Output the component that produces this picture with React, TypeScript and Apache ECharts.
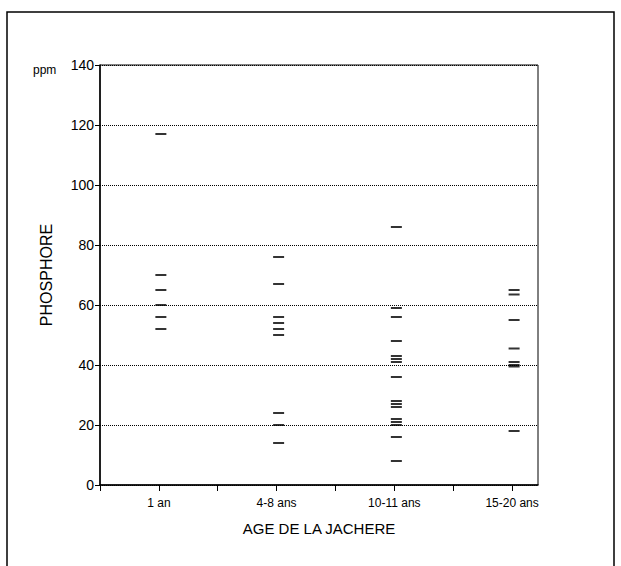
import React, { useEffect, useRef } from "react";
import * as echarts from "echarts";

const categories = ["1 an", "4-8 ans", "10-11 ans", "15-20 ans"];
const an1 = [117, 70, 65, 60, 56, 52];
const ans4to8 = [76, 67, 56, 54, 52, 50, 24, 20, 14];
const ans10to11 = [86, 59, 56, 48, 43, 42, 41, 36, 28, 27, 26, 22, 21, 20, 16, 8];
const ans15to20 = [65, 63.5, 55, 45.5, 41, 40, 39.5, 18];
const groups = [an1, ans4to8, ans10to11, ans15to20];

const yMin = 0;
const yMax = 140;
const yStep = 20;

const FONT = "Liberation Sans, Arial, Helvetica, sans-serif";

export default function App() {
  const ref = useRef<HTMLDivElement>(null);
  useEffect(() => {
    if (!ref.current) return;
    const chart = echarts.init(ref.current, undefined, { renderer: "svg" });
    const data: number[][] = [];
    groups.forEach((vals, i) => vals.forEach((v) => data.push([i + 1, v])));
    chart.setOption({
      animation: false,
      backgroundColor: "#ffffff",
      grid: {
        left: 100,
        right: 83,
        top: 65,
        bottom: 81,
        show: true,
        borderColor: "#000000",
        borderWidth: 1,
        backgroundColor: "transparent",
      },
      xAxis: {
        type: "value",
        min: 0.5,
        max: 4.22,
        interval: 0.5,
        name: "AGE DE LA JACHERE",
        nameLocation: "middle",
        nameGap: 36,
        nameTextStyle: { color: "#000000", fontSize: 15, fontFamily: FONT },
        axisLine: { show: true, lineStyle: { color: "#000000", width: 1.5 } },
        axisTick: { show: true, length: 6, lineStyle: { color: "#000000", width: 1 } },
        splitLine: { show: false },
        axisLabel: {
          color: "#000000",
          fontSize: 12,
          fontFamily: FONT,
          margin: 12,
          showMaxLabel: false,
          formatter: (v: number) =>
            Number.isInteger(v) && v >= 1 && v <= categories.length ? categories[v - 1] : "",
        },
      },
      yAxis: {
        type: "value",
        min: yMin,
        max: yMax,
        interval: yStep,
        name: "PHOSPHORE",
        nameLocation: "middle",
        nameGap: 46,
        nameRotate: 90,
        nameTextStyle: { color: "#000000", fontSize: 16, fontFamily: FONT },
        axisLine: { show: true, lineStyle: { color: "#000000", width: 1.5 } },
        axisTick: { show: true, length: 5, lineStyle: { color: "#000000", width: 1 } },
        axisLabel: { color: "#000000", fontSize: 14, fontFamily: FONT, margin: 6 },
        splitLine: { show: true, lineStyle: { color: "#000000", width: 1, type: "dotted" } },
      },
      graphic: [
        {
          type: "rect",
          shape: { x: 7, y: 12, width: 607, height: 600 },
          style: { fill: "none", stroke: "#000000", lineWidth: 1.5 },
          silent: true,
        },
        {
          type: "text",
          x: 33,
          y: 64,
          style: { text: "ppm", fill: "#000000", fontSize: 12, fontFamily: FONT },
          silent: true,
        },
      ],
      series: [
        {
          type: "scatter",
          data,
          symbol: "rect",
          symbolSize: [11, 2],
          symbolOffset: [2, 0],
          itemStyle: { color: "#000000" },
          silent: true,
        },
      ],
    });
    return () => chart.dispose();
  }, []);
  return (
    <div
      ref={ref}
      style={{ position: "fixed", left: 0, top: 0, width: 621, height: 566 }}
    />
  );
}
